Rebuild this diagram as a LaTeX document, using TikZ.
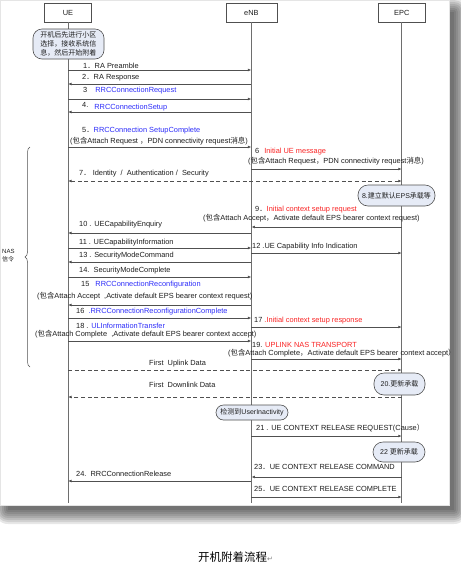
\documentclass[tikz,border=0pt]{standalone}
\usepackage{fontspec}
\setmainfont{Liberation Sans}
\newfontfamily\cjk{Noto Sans CJK SC}
\newfontfamily\symfnt{DejaVu Sans}
\usetikzlibrary{arrows.meta,positioning,decorations.pathreplacing}

\definecolor{linegray}{RGB}{80,80,80}
\definecolor{lifegray}{RGB}{110,110,110}
\definecolor{notefill}{RGB}{230,235,246}
\definecolor{msgblue}{RGB}{45,45,250}
\definecolor{msgred}{RGB}{250,35,35}
\definecolor{txtgray}{RGB}{30,30,30}

\newcommand{\lblfont}{\fontsize{7.4}{8.5}\selectfont}

\tikzset{
  entity/.style={draw=linegray, fill=white, minimum width=47pt, minimum height=19pt,
    inner sep=0pt, font=\lblfont, text=txtgray},
  lifeline/.style={draw=lifegray, line width=0.8pt},
  msg/.style={draw=linegray, line width=0.75pt, -{Latex[length=3.5pt,width=2.8pt]}},
  dmsg/.style={msg, dash pattern=on 4pt off 2.6pt},
  lbl/.style={anchor=west, inner sep=0pt, text height=5.5pt, text depth=1.5pt,
    font=\lblfont, text=txtgray},
  note/.style={draw=linegray, line width=0.6pt, fill=notefill, inner sep=0pt,
    font=\fontsize{7}{9.2}\selectfont, text=txtgray, align=center},
}

\begin{document}
\begin{tikzpicture}[x=1pt, y=-1pt]
\useasboundingbox (0,0) rectangle (461,566);

% panel and its shadow
\foreach \r in {0,2,...,14}
  \fill[black, opacity=0.095, rounded corners=\r] (8-\r,12-\r) rectangle (454+\r,510+\r);
\fill[white] (0,0) rectangle (449,505);
\draw[black!10] (0.5,0.5) rectangle (449,505);

% entities
\node[entity] (UE) at (68,12.5) {UE};
\node[entity, minimum width=51pt, right=134pt of UE] (eNB) {eNB};
\node[entity, right=101pt of eNB] (EPC) {EPC};

\draw[lifeline] (UE) -- (UE |- 0,503);
\draw[lifeline] (eNB) -- (eNB |- 0,503);
\draw[lifeline] (EPC) -- (EPC |- 0,503);

\node[note, minimum width=71pt, minimum height=30pt, rounded corners=9pt] (boot) at (68.5,44)
  {\cjk 开机后先进行小区\\\cjk 选择，接收系统信\\\cjk 息，然后开始附着};

% messages
\draw[msg] (UE |- 0,70) -- (eNB |- 0,70);
\node[lbl] (m1) at (83,66) {1{\cjk ．}RA Preamble};
\draw[msg] (eNB |- 0,84) -- (UE |- 0,84);
\node[lbl] (m2) at (82,77) {2{\cjk ．}RA Response};
\draw[msg] (UE |- 0,99) -- (eNB |- 0,99);
\node[lbl] (m3) at (83,90) {3\hspace{8pt}{\color{msgblue}RRCConnectionRequest}};
\draw[msg] (eNB |- 0,112) -- (UE |- 0,112);
\node[lbl] (m4) at (82,107) {\raisebox{2pt}{4.}\hspace{6pt}{\color{msgblue}RRCConnectionSetup}};

\draw[msg] (UE |- 0,147) -- (eNB |- 0,147);
\node[lbl] (m5) at (82,130) {5{\cjk ．}{\color{msgblue}RRCConnection SetupComplete}};
\node[lbl] (m5b) at (70,141) {({\cjk 包含}Attach Request {\cjk ，}PDN connectivity request{\cjk 消息})};
\draw[msg] (eNB |- 0,169) -- (EPC |- 0,169);
\node[lbl] (m6) at (255,151) {6\hspace{5pt}{\color{msgred}Initial UE message}};
\node[lbl] (m6b) at (248,161) {({\cjk 包含}Attach Request{\cjk ，}PDN connectivity request{\cjk 消息})};

\draw[dmsg, {Latex[length=3.5pt,width=2.8pt]}-{Latex[length=3.5pt,width=2.8pt]}] (UE |- 0,181) -- (EPC |- 0,181);
\node[lbl] (m7) at (79,173) {7{\cjk ．}\ Identity\ \ /\ \ Authentication /\ \ Security};
\node[note, minimum width=77pt, minimum height=21pt, rounded corners=10pt] (bearer) at (396.5,195.5)
  {8.{\cjk 建立默认}EPS{\cjk 承载等}};

\draw[msg] (EPC |- 0,227) -- (eNB |- 0,227);
\node[lbl] (m9) at (255,209) {9{\cjk ．}{\color{msgred}Initial context setup request}};
\node[lbl] (m9b) at (203,218) {({\cjk 包含}Attach Accept{\cjk ，}Activate default EPS bearer context request)};
\draw[msg] (eNB |- 0,233) -- (UE |- 0,233);
\node[lbl] (m10) at (79,224) {10 . UECapabilityEnquiry};
\draw[msg] (UE |- 0,248) -- (eNB |- 0,248);
\node[lbl] (m11) at (79,242) {11 . UECapabilityInformation};
\draw[msg] (eNB |- 0,253) -- (EPC |- 0,253);
\node[lbl] (m12) at (252,246) {12 .UE Capability Info Indication};
\draw[msg] (eNB |- 0,262) -- (UE |- 0,262);
\node[lbl] (m13) at (79,255) {13 . SecurityModeCommand};
\draw[msg] (UE |- 0,277) -- (eNB |- 0,277);
\node[lbl] (m14) at (79,270) {14.\ \ SecurityModeComplete};

\draw[msg] (eNB |- 0,305) -- (UE |- 0,305);
\node[lbl] (m15) at (81,284) {15\hspace{6pt}{\color{msgblue}RRCConnectionReconfiguration}};
\node[lbl] (m15b) at (37,296) {({\cjk 包含}Attach Accept\ \ ,Activate default EPS bearer context request)};
\draw[msg] (UE |- 0,318) -- (eNB |- 0,318);
\node[lbl] (m16) at (76,311) {16\ \ {\color{msgblue}.RRCConnectionReconfigurationComplete}};
\draw[msg] (eNB |- 0,327) -- (EPC |- 0,327);
\node[lbl] (m17) at (254,320) {17 {\color{msgred}.Initial context setup response}};
\draw[msg] (UE |- 0,341) -- (eNB |- 0,341);
\node[lbl] (m18) at (76,326) {18 . {\color{msgblue}ULInformationTransfer}};
\node[lbl] (m18b) at (35,334) {({\cjk 包含}Attach Complete\ \ ,Activate default EPS bearer context accept)};
\draw[msg] (eNB |- 0,359) -- (EPC |- 0,359);
\node[lbl] (m19) at (252,345) {19. {\color{msgred}UPLINK NAS TRANSPORT}};
\node[lbl] (m19b) at (228,353) {({\cjk 包含}Attach Complete{\cjk ，}Activate default EPS bearer context accept{\cjk ）}};

\draw[dmsg] (UE |- 0,370) -- (EPC |- 0,370);
\node[lbl] (up) at (149,363) {First\ \ Uplink Data};
\node[note, minimum width=51pt, minimum height=22pt, rounded corners=10pt] (upd1) at (399.5,384)
  {20.{\cjk 更新承载}};
\draw[dmsg] (EPC |- 0,397) -- (UE |- 0,397);
\node[lbl] (down) at (149,385) {First\ \ Downlink Data};
\node[note, minimum width=72pt, minimum height=15pt, rounded corners=7.5pt] (idle) at (252,412.5)
  {{\cjk 检测到}UserInactivity};

\draw[msg] (eNB |- 0,436) -- (EPC |- 0,436);
\node[lbl] (m21) at (256,428) {21 . UE CONTEXT RELEASE REQUEST(Cause{\cjk ）}};
\node[note, minimum width=52pt, minimum height=20pt, rounded corners=10pt] (upd2) at (399,452)
  {22 {\cjk 更新承载}};
\draw[msg] (EPC |- 0,477) -- (eNB |- 0,477);
\node[lbl] (m23) at (254,467) {23{\cjk ．}UE CONTEXT RELEASE COMMAND};
\draw[msg] (eNB |- 0,481) -- (UE |- 0,481);
\node[lbl] (m24) at (76,474) {24.\ \ RRCConnectionRelease};
\draw[msg] (eNB |- 0,497) -- (EPC |- 0,497);
\node[lbl] (m25) at (254,489) {25{\cjk ．}UE CONTEXT RELEASE COMPLETE};

% NAS brace
\coordinate (nasTop) at (30,147);
\coordinate (nasBot) at (30,367);
\draw[linegray, line width=0.5pt, decorate, decoration={brace, amplitude=5pt}] (nasBot) -- (nasTop);
\node[anchor=west, inner sep=0pt, font=\fontsize{6}{8}\selectfont, text=txtgray, align=left] (nas) at (2,256)
  {NAS\\{\cjk 信令}};

\node[anchor=west, inner sep=0pt, font=\fontsize{11.5}{13}\selectfont] (caption) at (198,557)
  {{\cjk 开机附着流程}{\symfnt\color{gray}\fontsize{7}{8}\selectfont ↵}};
\end{tikzpicture}
\end{document}
